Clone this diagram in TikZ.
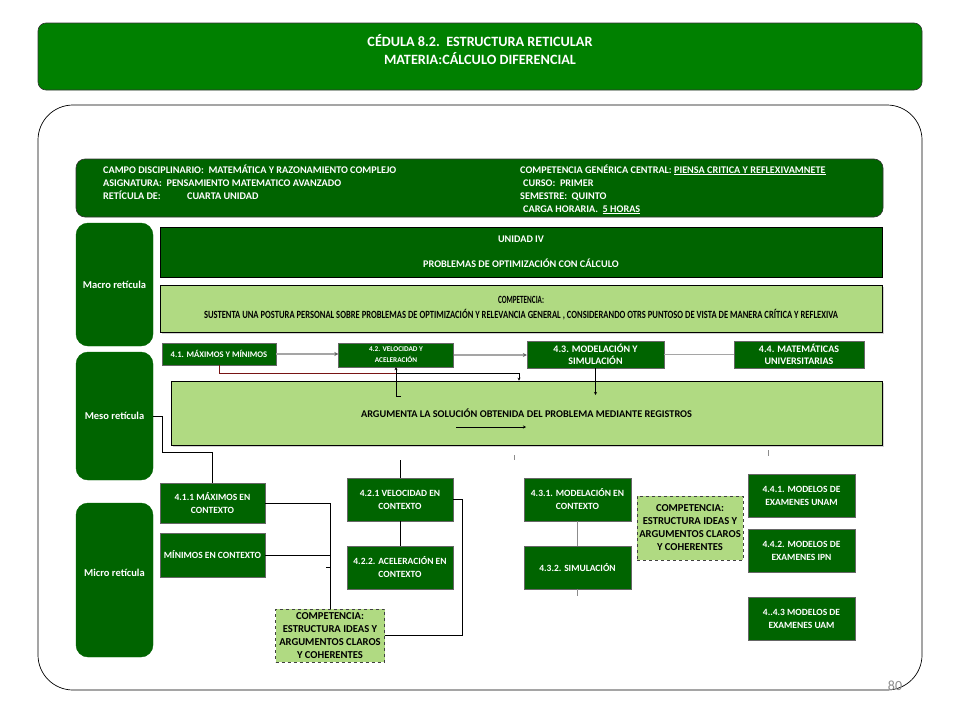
\documentclass[tikz,border=0pt]{standalone}
\usepackage{fontspec}
\setmainfont{Carlito}
\usepackage{graphicx}
\usetikzlibrary{arrows.meta,shadows}
\definecolor{hdrgreen}{RGB}{0,128,0}
\definecolor{dkgreen}{RGB}{0,100,0}
\definecolor{ltgreen}{RGB}{176,218,130}
\definecolor{grayline}{RGB}{165,165,165}
\definecolor{redl}{RGB}{120,20,20}
\begin{document}
\begin{tikzpicture}[x=1pt,y=-1pt,
  hdrbox/.style={fill=hdrgreen,draw=black!80,line width=0.6pt,rounded corners=8pt},
  hdrt/.style={text=white,align=center,inner sep=0pt,font=\bfseries\fontsize{14.2}{18}\selectfont},
  infobox/.style={fill=dkgreen,draw=black!80,line width=0.6pt,rounded corners=9pt},
  infot/.style={text=white,inner sep=0pt,anchor=base west,font=\bfseries\fontsize{10.2}{12}\selectfont},
  retbox/.style={fill=dkgreen,draw=dkgreen,rounded corners=12pt,minimum width=77pt,text=white,font=\bfseries\fontsize{10.5}{12}\selectfont},
  dg/.style={fill=dkgreen,draw=black!60,line width=0.4pt,text=white,align=center,inner sep=1pt,font=\bfseries\fontsize{9.5}{13}\selectfont},
  lg/.style={fill=ltgreen,draw=black,line width=0.6pt,text=black,align=center,inner sep=1pt,drop shadow={shadow xshift=1.5pt,shadow yshift=-1.5pt,fill=black!35}},
  dbox/.style={fill=ltgreen,draw=black!75,dashed,line width=0.9pt,text=black,align=center,inner sep=1pt,font=\bfseries\fontsize{10.6}{13}\selectfont},
  conn/.style={draw=black,line width=0.6pt},
  gconn/.style={draw=black!45,line width=0.8pt},
  garr/.style={draw=grayline,line width=1.8pt,-{Stealth[length=4pt,width=4pt,black!60]}},
  tip/.style={-{Stealth[length=3pt,width=3pt]}}
]
\useasboundingbox (0,0) rectangle (960,720);
\fill[white] (0,0) rectangle (960,720);

% header
\node[hdrbox,minimum width=884pt,minimum height=67pt] (hdr) at (480,56.5) {};
\node[hdrt] (hdrtext) at (480,50) {CÉDULA 8.2.\ \ ESTRUCTURA RETICULAR\\MATERIA:CÁLCULO DIFERENCIAL};

% frame
\draw[black,line width=0.7pt,rounded corners=35pt] (38,105) rectangle (922,690);
\node[text=black!45,inner sep=0pt,font=\fontsize{14}{14}\selectfont] (pg) at (895,686) {80};

% info box
\node[infobox,minimum width=807pt,minimum height=58pt] (info) at (479.5,188) {};
\node[infot] (i1) at (103,173) {CAMPO DISCIPLINARIO:\ \ MATEMÁTICA Y RAZONAMIENTO COMPLEJO};
\node[infot] (i2) at (103,186) {ASIGNATURA:\ \ PENSAMIENTO MATEMATICO AVANZADO};
\node[infot] (i3) at (103,199) {RETÍCULA DE:};
\node[infot] (i3b) at (187,199) {CUARTA UNIDAD};
\node[infot] (r1) at (520,173) {COMPETENCIA GENÉRICA CENTRAL: \underline{PIENSA CRITICA Y REFLEXIVAMNETE}};
\node[infot] (r2) at (523,186) {CURSO:\ \ PRIMER};
\node[infot] (r3) at (520,199) {SEMESTRE:\ \ QUINTO};
\node[infot] (r4) at (523,212) {CARGA HORARIA.\ \ \underline{5 HORAS}};

% reticula labels
\node[retbox,minimum height=123pt] (macro) at (114.5,284.5) {Macro retícula};
\node[retbox,minimum height=128pt] (meso) at (114.5,416) {Meso retícula};
\node[retbox,minimum height=154pt] (micro) at (114.5,580) {};
\node[text=white,font=\bfseries\fontsize{10.5}{12}\selectfont] (microt) at (114.5,573) {Micro retícula};

% unidad
\node[dg,draw=black,line width=0.6pt,minimum width=722pt,minimum height=50pt,font=\bfseries\fontsize{10.2}{25}\selectfont] (unidad) at (521,252) {UNIDAD IV\\PROBLEMAS DE OPTIMIZACIÓN CON CÁLCULO};
\node[lg,minimum width=722pt,minimum height=47pt,font=\bfseries\fontsize{11}{15}\selectfont] (comp) at (521,308.5) {\resizebox{46pt}{\height}{COMPETENCIA:}\\\resizebox{634pt}{\height}{SUSTENTA UNA POSTURA PERSONAL SOBRE PROBLEMAS DE OPTIMIZACIÓN Y RELEVANCIA GENERAL , CONSIDERANDO OTRS PUNTOSO DE VISTA DE MANERA CRÍTICA Y REFLEXIVA}};

% top row
\node[dg,minimum width=114pt,minimum height=22pt,font=\bfseries\fontsize{8.6}{10}\selectfont] (t41) at (219,354) {4.1. MÁXIMOS Y MÍNIMOS};
\node[dg,minimum width=115pt,minimum height=24pt,font=\bfseries\fontsize{7.3}{11}\selectfont] (t42) at (396,355) {4.2. VELOCIDAD Y\\ACELERACIÓN};
\node[dg,minimum width=137pt,minimum height=27pt,font=\bfseries\fontsize{10}{12}\selectfont] (t43) at (595.5,354.5) {4.3. MODELACIÓN Y\\SIMULACIÓN};
\node[dg,minimum width=130pt,minimum height=27pt,font=\bfseries\fontsize{10}{12}\selectfont] (t44) at (799,354.5) {4.4. MATEMÁTICAS\\UNIVERSITARIAS};
\draw[garr] (t41.east) -- (t41.east -| t42.west);
\draw[garr] (t42.east) -- (t42.east -| t43.west);
\draw[draw=grayline,line width=1.8pt] (t43.east) -- (t44.west);

% argumenta
\node[lg,minimum width=711pt,minimum height=64pt,font=\bfseries\fontsize{10.3}{12}\selectfont] (arg) at (526.5,413) {ARGUMENTA LA SOLUCIÓN OBTENIDA DEL PROBLEMA MEDIANTE REGISTROS};

% top connectors
\coordinate (j0) at (396,373);
\coordinate (j1) at (519,373);
\draw[draw=redl,line width=0.6pt] (t41.south) |- (j0);
\draw[conn] (j0) -- (j1);
\draw[conn,tip] (j1) -- (j1 |- arg.north);
\coordinate (j2) at (401,396);
\draw[conn,tip] (j2) -| (t42.south);
\coordinate (j3) at (595.5,395);
\draw[conn,tip] (t43.south) -- (j3);
\coordinate (a1) at (456,427);
\coordinate (a2) at (526,427);
\draw[conn,tip] (a1) -- (a2);

% micro boxes
\node[dg,minimum width=105pt,minimum height=40pt] (m411) at (212.5,503) {4.1.1 MÁXIMOS EN\\CONTEXTO};
\node[dg,minimum width=105pt,minimum height=44pt] (mmin) at (212.5,555) {MÍNIMOS EN CONTEXTO};
\node[dg,minimum width=106pt,minimum height=43pt] (m421) at (400,499.5) {4.2.1 VELOCIDAD EN\\CONTEXTO};
\node[dg,minimum width=106pt,minimum height=43pt] (m422) at (400,567.5) {4.2.2. ACELERACIÓN EN\\CONTEXTO};
\node[dbox,minimum width=109pt,minimum height=53pt] (cl) at (330,635.5) {COMPETENCIA:\\ESTRUCTURA IDEAS Y\\ARGUMENTOS CLAROS\\Y COHERENTES};
\node[dg,minimum width=107pt,minimum height=43pt] (m431) at (577.5,499.5) {4.3.1. MODELACIÓN EN\\CONTEXTO};
\node[dg,minimum width=107pt,minimum height=43pt] (m432) at (577.5,567.5) {4.3.2. SIMULACIÓN};
\node[dbox,minimum width=106pt,minimum height=64pt] (cr) at (690,528) {COMPETENCIA:\\ESTRUCTURA IDEAS Y\\ARGUMENTOS CLAROS\\Y COHERENTES};
\node[dg,minimum width=107pt,minimum height=43pt] (m441) at (801.5,495.5) {4.4.1. MODELOS DE\\EXAMENES UNAM};
\node[dg,minimum width=107pt,minimum height=43pt] (m442) at (801.5,550.5) {4.4.2. MODELOS DE\\EXAMENES IPN};
\node[dg,minimum width=107pt,minimum height=43pt] (m443) at (801.5,618.5) {4..4.3 MODELOS DE\\EXAMENES UAM};

% meso/micro connectors
\coordinate (j4) at (162,452);
\draw[conn] (meso.east) -| (j4) -| (m411.north);
\draw[conn] (m411.east) -| (cl.north);
\draw[conn] (mmin.east) -- (mmin.east -| cl.north);
\coordinate (j5) at (462,635.5);
\draw[conn] (m421.east) -| (j5) -- (cl.east);
\draw[conn] (m421.south) -- (m422.north);
\draw[gconn] (m431.south) -- (m432.north);

% stubs
\coordinate (k3) at (400,460);
\draw[conn] (k3) -- (m421.north);
\coordinate (k1) at (514,455);
\coordinate (k1e) at (514,460);
\draw[gconn] (k1) -- (k1e);
\coordinate (k2) at (768,450);
\coordinate (k2e) at (768,456);
\draw[gconn] (k2) -- (k2e);
\coordinate (k4) at (326,567);
\draw[conn] (k4) -- (k4 -| cl.north);
\coordinate (k5) at (577.5,596);
\draw[gconn] (m432.south) -- (k5);
\end{tikzpicture}
\end{document}
